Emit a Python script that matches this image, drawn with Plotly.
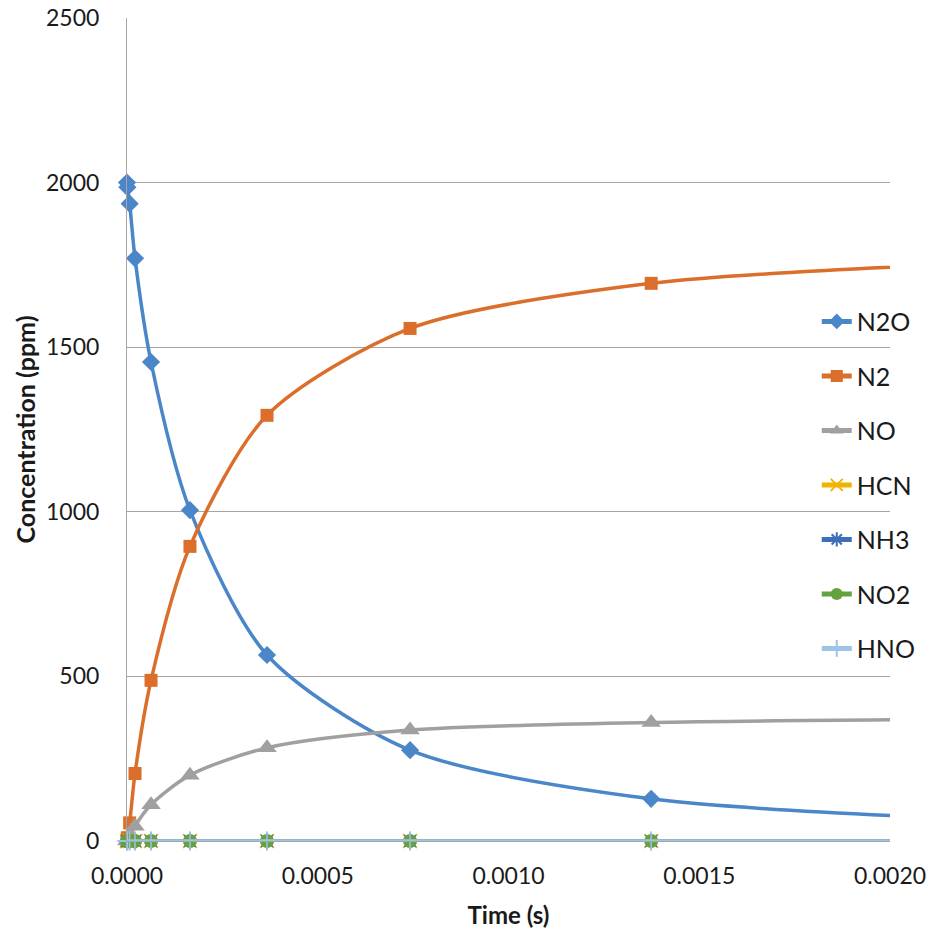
import plotly.graph_objects as go

# Data
time_s = [0.0, 1e-6, 7e-6, 2.1e-5, 6.3e-5, 1.65e-4, 3.67e-4, 7.42e-4, 1.374e-3, 2.4e-3]
n2o = [2000, 1986, 1936, 1770, 1455, 1005, 565, 276, 128, 58]
n2 = [0, 10, 55, 205, 488, 895, 1293, 1557, 1694, 1762]
no = [0, 2, 12, 45, 110, 200, 283, 337, 360, 371]
hcn = [0, 0, 0, 0, 0, 0, 0, 0, 0, 0]
nh3 = [0, 0, 0, 0, 0, 0, 0, 0, 0, 0]
no2 = [0, 0, 0, 0, 0, 0, 0, 0, 0, 0]
hno = [0, 0, 0, 0, 0, 0, 0, 0, 0, 0]

x_ticks = [0.0, 0.0005, 0.0010, 0.0015, 0.0020]
y_ticks = [0, 500, 1000, 1500, 2000, 2500]
x_max = 0.002

series = [
    ("N2O", n2o, "#4A86C8", "diamond", 14, 0),
    ("N2", n2, "#DA6E2A", "square", 13, 0),
    ("NO", no, "#A0A0A0", "triangle-up", 17, 0),
    ("HCN", hcn, "#F0B400", "x-thin-open", 14, 1.5),
    ("NH3", nh3, "#3F6EB8", "asterisk-open", 14, 1.5),
    ("NO2", no2, "#64A23E", "circle", 14, 0),
    ("HNO", hno, "#9DC3E6", "cross-thin-open", 14, 1.5),
]

FONT = "Lato"

fig = go.Figure()
for i, (name, vals, color, sym, size, lw) in enumerate(series):
    sizes = [size if t <= x_max else 0 for t in time_s]
    marker = dict(color=color, symbol=sym, size=sizes, opacity=1,
                  line=dict(color=color, width=lw))
    fig.add_trace(go.Scatter(
        x=time_s, y=vals, name=name, mode="lines+markers",
        line=dict(color=color, width=3.5, shape="spline", smoothing=0.8),
        marker=marker, legendgroup=f"g{i}", cliponaxis=False,
    ))

fig.update_layout(
    width=933, height=930,
    margin=dict(l=127, r=43, t=18, b=89),
    paper_bgcolor="white", plot_bgcolor="white",
    font=dict(family=FONT, size=23, color="#1a1a1a"),
    showlegend=True,
    legend=dict(
        x=0.904, xanchor="left", y=0.659, yanchor="top",
        bgcolor="rgba(0,0,0,0)", font=dict(family=FONT, size=25, color="#1a1a1a"),
        traceorder="grouped", tracegroupgap=19, itemsizing="constant",
    ),
    xaxis=dict(
        range=[0, x_max], tickvals=x_ticks, tickformat=".4f",
        showgrid=False, zeroline=False, showline=True, linecolor="#A6A6A6", linewidth=1,
        ticks="", ticklabelstandoff=14, automargin=False,
        title=dict(text="<b>Time (s)</b>", font=dict(family=FONT, size=24), standoff=19),
    ),
    yaxis=dict(
        range=[0, 2500], tickvals=y_ticks,
        showgrid=True, gridcolor="#A6A6A6", gridwidth=1,
        zeroline=False, showline=True, linecolor="#A6A6A6", linewidth=1,
        ticks="", ticklabelstandoff=22, automargin=False,
        title=dict(text="<b>Concentration (ppm)</b>", font=dict(family=FONT, size=25), standoff=3),
    ),
)

fig.write_html(
    "out.html",
    config={"displayModeBar": False},
    post_script="document.body.style.margin='0';document.body.style.overflow='hidden';",
)
